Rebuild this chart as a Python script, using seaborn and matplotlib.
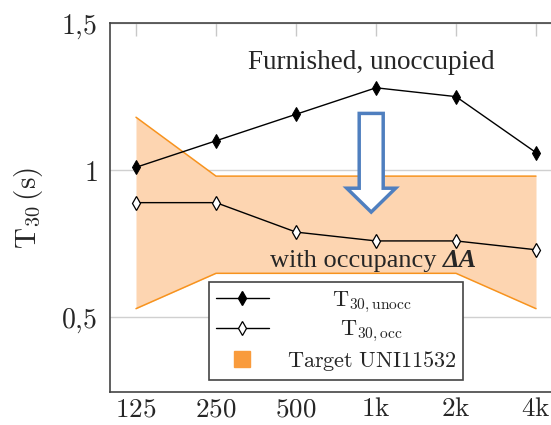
import matplotlib
matplotlib.use("Agg")
import matplotlib.pyplot as plt
import seaborn as sns
from matplotlib.lines import Line2D
from matplotlib.patches import FancyArrow

sns.set_style("white")
plt.rcParams["mathtext.fontset"] = "cm"

# ---------- data ----------
bands = ["125", "250", "500", "1k", "2k", "4k"]
band_labels = [r"$125$", r"$250$", r"$500$", r"$1\mathrm{k}$", r"$2\mathrm{k}$", r"$4\mathrm{k}$"]
t30_unocc = [1.01, 1.10, 1.19, 1.28, 1.25, 1.06]
t30_occ = [0.89, 0.89, 0.79, 0.76, 0.76, 0.73]
target_upper = [1.18, 0.98, 0.98, 0.98, 0.98, 0.98]
target_lower = [0.53, 0.65, 0.65, 0.65, 0.65, 0.53]
y_ticks = [0.5, 1.0, 1.5]
y_tick_labels = [r"$0{,}5$", r"$1$", r"$1{,}5$"]

xpos = list(range(len(bands)))
FILL = "#fdd5b1"
EDGE = "#f7931e"
SQUARE = "#f99b3c"

fig = plt.figure(figsize=(5.51, 4.25), dpi=100)
ax = fig.add_axes([110 / 551, 33 / 425, 453 / 551, 369 / 425])

# target band
ax.fill_between(xpos, target_lower, target_upper, color=FILL, linewidth=0, zorder=1)
ax.plot(xpos, target_upper, color=EDGE, lw=1.1, zorder=2)
ax.plot(xpos, target_lower, color=EDGE, lw=1.1, zorder=2)

# measured series
sns.lineplot(x=xpos, y=t30_unocc, ax=ax, color="black", lw=1.0, marker="d",
             markersize=7.5, markerfacecolor="black", markeredgecolor="black", zorder=4)
sns.lineplot(x=xpos, y=t30_occ, ax=ax, color="black", lw=1.0, marker="d",
             markersize=7.5, markerfacecolor="white", markeredgecolor="black",
             markeredgewidth=0.9, zorder=4)

ax.set_xlim(-0.325, 5.3375)
ax.set_ylim(0.247, 1.5)
ax.set_xticks(xpos)
ax.set_xticklabels(band_labels, fontsize=19.5)
ax.set_yticks(y_ticks)
ax.set_yticklabels(y_tick_labels, fontsize=20)
ax.yaxis.grid(True, color="#d0d0d0", lw=1.0)
ax.xaxis.grid(False)
ax.tick_params(axis="x", direction="in", top=True, length=9, width=1, color="#c8c8c8", pad=3)
ax.tick_params(axis="y", length=0, pad=9)
for s in ax.spines.values():
    s.set_color("#444444")
    s.set_linewidth(1.2)
ax.set_ylabel(r"$\mathrm{T}_{30}\,(\mathrm{s})$", fontsize=21, labelpad=12)

# arrow
arrow = FancyArrow(2.94, 1.193, 0, -0.335, width=0.30, head_width=0.61,
                   head_length=0.081, length_includes_head=True,
                   facecolor="white", edgecolor="#4f7fbf", lw=2.5, zorder=5)
ax.add_patch(arrow)

ax.text(1.40, 1.345, "Furnished, unoccupied", family="Liberation Serif",
        fontsize=19.5, va="baseline", ha="left", zorder=6)
ax.text(3.84, 0.672, "with occupancy ", family="Liberation Serif",
        fontsize=19, va="baseline", ha="right", zorder=6)
ax.text(3.84, 0.672, "ΔA", family="Liberation Serif", fontsize=19,
        fontweight="bold", fontstyle="italic", va="baseline", ha="left", zorder=6)

handles = [
    Line2D([], [], color="black", lw=1.0, marker="d", markersize=7.5,
           markerfacecolor="black"),
    Line2D([], [], color="black", lw=1.0, marker="d", markersize=7.5,
           markerfacecolor="white", markeredgewidth=0.9),
    Line2D([], [], lw=0, marker="s", markersize=11, color=SQUARE),
]
labels = [r"$\mathrm{T}_{30,\mathrm{unocc}}$", r"$\mathrm{T}_{30,\mathrm{occ}}$",
          r"$\mathrm{Target\ UNI11532}$"]
leg = ax.legend(handles, labels, loc="upper left", bbox_to_anchor=(0.2185, 0.297),
                borderaxespad=0, fontsize=16, handlelength=2.4, handletextpad=0.8,
                labelspacing=0.2, borderpad=0.3, frameon=True, fancybox=False,
                framealpha=1, edgecolor="#444444")
leg.get_frame().set_linewidth(1.2)
leg.set_zorder(7)

# center legend labels like pgfplots
fig.canvas.draw()
r = fig.canvas.get_renderer()
texts = leg.get_texts()
widths = [t.get_window_extent(r).width for t in texts]
wmax = max(widths)
for t, w in zip(texts, widths):
    t.set_x((wmax - w) / 2)

fig.savefig("out.png", dpi=100)
